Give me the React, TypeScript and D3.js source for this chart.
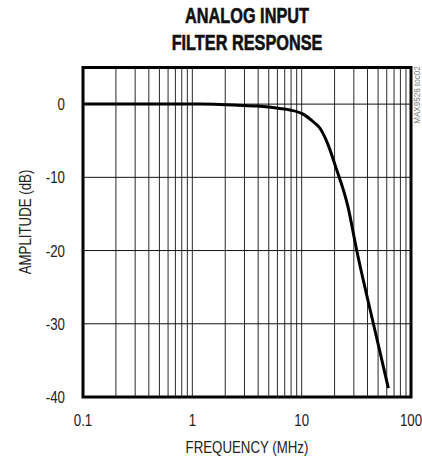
import React from "react";
import * as d3 from "d3";

const freqMHz = [0.1, 1.18, 1.79, 2.6, 3.88, 6.34, 7.83, 10.4, 12.5, 14.7, 17.5, 20.4, 26.5, 31.9, 45.3, 62.1];
const ampDB = [0, 0, -0.05, -0.15, -0.27, -0.59, -0.8, -1.4, -2.3, -3.3, -5.6, -8.5, -14, -20, -30, -38.8];
const xTicks = [0.1, 1, 10, 100];
const xTickLabels = ["0.1", "1", "10", "100"];
const yTicks = [0, -10, -20, -30, -40];
const yTickLabels = ["0", "-10", "-20", "-30", "-40"];
const titleLines = ["ANALOG INPUT", "FILTER RESPONSE"];

const W = 422, H = 459;
const L = 83, R = 411, T = 67.5, B = 397;
const FONT = "'Liberation Sans', Arial, sans-serif";

function NText(props: { x: number; y: number; sx: number; rot?: number; anchor?: string; size: number; bold?: boolean; fill?: string; stroke?: string; children: React.ReactNode }) {
  const { x, y, sx, rot = 0, anchor = "middle", size, bold, fill = "#222", stroke, children } = props;
  return (
    <text
      transform={`translate(${x},${y}) rotate(${rot}) scale(${sx},1)`}
      textAnchor={anchor}
      fontFamily={FONT}
      fontWeight={bold ? "bold" : "normal"}
      fontSize={size}
      fill={fill}
      stroke={stroke}
      strokeWidth={stroke ? 0.6 : undefined}
    >
      {children}
    </text>
  );
}

export default function App() {
  const x = d3.scaleLog().domain([0.1, 100]).range([L, R]);
  const y = d3.scaleLinear().domain([-40, 5]).range([B, T]);
  const minor: number[] = [];
  for (const dec of [0.1, 1, 10]) for (let k = 2; k <= 9; k++) minor.push(dec * k);
  const line = d3
    .line<number>()
    .x((_, i) => x(freqMHz[i]))
    .y((d) => y(d))
    .curve(d3.curveMonotoneX);
  return (
    <svg width={W} height={H} style={{ position: "absolute", left: 0, top: 0 }}>
      <rect width={W} height={H} fill="#fff" />
      {titleLines.map((t, i) => (
        <NText key={t} x={247} y={23 + i * 27} sx={0.74} size={22} bold fill="#111" stroke="#111">{t}</NText>
      ))}
      {minor.concat([1, 10]).map((v) => (
        <line key={"v" + v} x1={x(v)} x2={x(v)} y1={T} y2={B} stroke="#2a2a2a" strokeWidth={1} />
      ))}
      {yTicks.slice(0, 4).map((v) => (
        <line key={"h" + v} x1={L} x2={R} y1={y(v)} y2={y(v)} stroke="#111" strokeWidth={1} />
      ))}
      <path d={line(ampDB) || ""} fill="none" stroke="#000" strokeWidth={3} strokeLinejoin="round" />
      <rect x={L} y={T} width={R - L} height={B - T} fill="none" stroke="#000" strokeWidth={3} />
      {yTicks.map((v, i) => (
        <NText key={"yl" + v} x={65} y={y(v) + 6} sx={0.83} anchor="end" size={16}>{yTickLabels[i]}</NText>
      ))}
      {xTicks.map((v, i) => (
        <NText key={"xl" + v} x={x(v)} y={426} sx={0.83} size={16}>{xTickLabels[i]}</NText>
      ))}
      <NText x={247} y={453} sx={0.83} size={16}>FREQUENCY (MHz)</NText>
      <NText x={31} y={222} rot={-90} sx={0.83} size={16}>AMPLITUDE (dB)</NText>
      <NText x={420} y={95} rot={-90} sx={0.9} size={9} fill="#777">MAX9526 toc02</NText>
    </svg>
  );
}
